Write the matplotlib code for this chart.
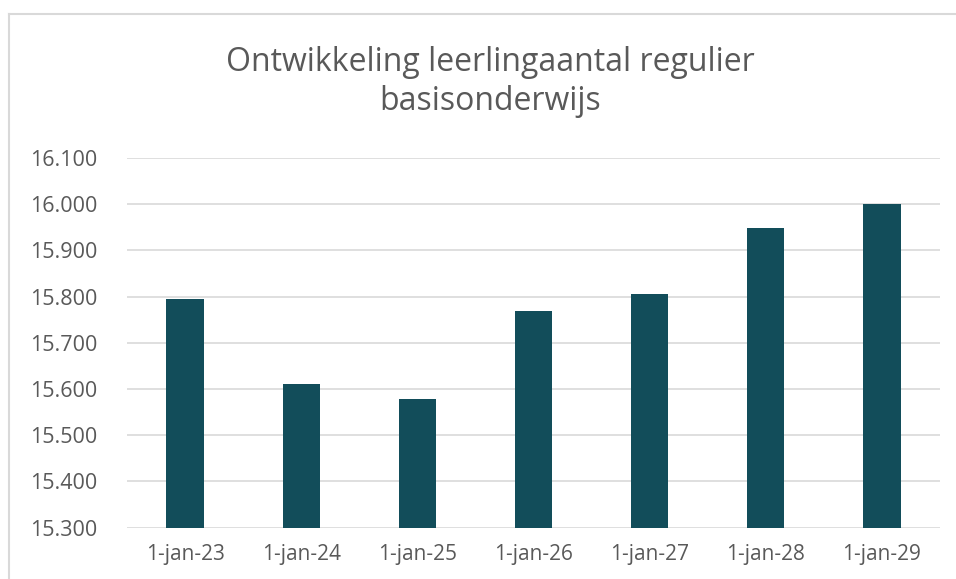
import matplotlib.pyplot as plt
from matplotlib.lines import Line2D

# leerlingaantal per 1 januari
labels = ["1-jan-23", "1-jan-24", "1-jan-25", "1-jan-26", "1-jan-27", "1-jan-28", "1-jan-29"]
leerlingen = [15795, 15610, 15579, 15768, 15806, 15948, 16001]
y_ticks = [15300, 15400, 15500, 15600, 15700, 15800, 15900, 16000, 16100]

plt.rcParams["font.family"] = ["Open Sans", "DejaVu Sans"]
text_color = "#595959"
grid_color = "#D9D9D9"

fig = plt.figure(figsize=(9.56, 5.79), dpi=100)
ax = fig.add_axes([0.1328, 0.0886, 0.8505, 0.6385])

x = range(len(labels))
ax.bar(x, leerlingen, width=0.32, color="#124D5A", zorder=3)

ax.set_ylim(15300, 16100)
ax.set_xlim(-0.5, len(labels) - 0.5)
ax.set_yticks(y_ticks)
ax.set_yticklabels([f"{v:,}".replace(",", ".") for v in y_ticks])
ax.set_xticks(list(x))
ax.set_xticklabels(labels)
ax.tick_params(axis="y", length=0, labelsize=15.5, colors=text_color, pad=21)
ax.tick_params(axis="x", length=0, labelsize=15, colors=text_color, pad=12)
ax.grid(axis="y", color=grid_color, linewidth=1.2, zorder=0)
for s in ax.spines.values():
    s.set_visible(False)

fig.text(0.513, 0.858, "Ontwikkeling leerlingaantal regulier\nbasisonderwijs",
         ha="center", va="center", fontsize=23, color=text_color, linespacing=1.25)

# rand van het grafiekvak
fig.add_artist(Line2D([9 / 956, 1], [1 - 14 / 579, 1 - 14 / 579], color=grid_color, linewidth=1.5))
fig.add_artist(Line2D([9 / 956, 9 / 956], [0, 1 - 14 / 579], color=grid_color, linewidth=1.5))

fig.savefig("out.png", dpi=100)
